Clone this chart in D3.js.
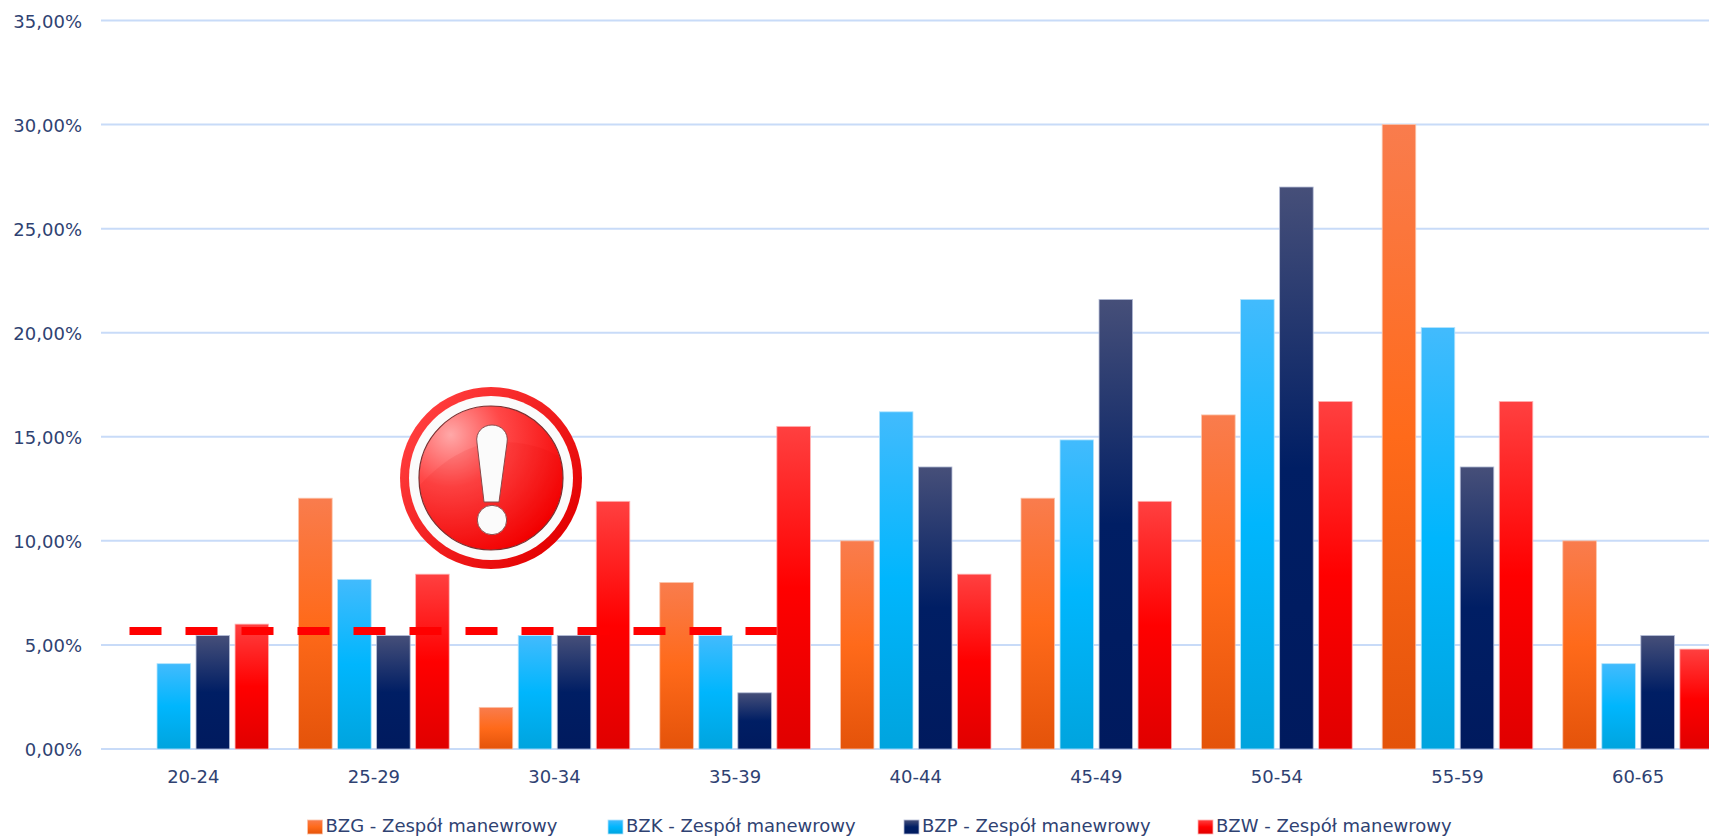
<!DOCTYPE html>
<html>
<head>
<meta charset="utf-8">
<script src="https://cdn.jsdelivr.net/npm/d3@7"></script>
<style>
    html, body { margin: 0; padding: 0; background: #fff; overflow: hidden; }
    svg { display: block; }
    text { font-family: 'DejaVu Sans', sans-serif; fill: #2f4272; }
</style>
</head>
<body>
<svg></svg>
<script>
let width = 1709;
let height = 836;
let labelFont = "'DejaVu Sans', sans-serif";
let labelSize = 18;

let ageGroups = ['20-24', '25-29', '30-34', '35-39', '40-44', '45-49', '50-54', '55-59', '60-65'];
let seriesNames = ['BZG - Zespół manewrowy', 'BZK - Zespół manewrowy', 'BZP - Zespół manewrowy', 'BZW - Zespół manewrowy'];

let bzg = [0, 12.05, 2, 8, 10, 12.05, 16.05, 30, 10];
let bzk = [4.1, 8.15, 5.45, 5.45, 16.2, 14.85, 21.6, 20.25, 4.1];
let bzp = [5.45, 5.45, 5.45, 2.7, 13.55, 21.6, 27, 13.55, 5.45];
let bzw = [6, 8.4, 11.9, 15.5, 8.4, 11.9, 16.7, 16.7, 4.8];
let seriesValues = [bzg, bzk, bzp, bzw];

let yTicks = [0, 5, 10, 15, 20, 25, 30, 35];
let thresholdValue = 5.67;
let thresholdGroups = ['20-24', '35-39'];

// top, middle and bottom stops of each bar fill, plus its pale outline
let gradientStops = [
    ['#f97c4d', '#ff6a1a', '#e4530a'],
    ['#42bbfd', '#00b6fd', '#00a4de'],
    ['#464f79', '#001e64', '#001a5e'],
    ['#ff4040', '#ff0000', '#e00000'],
];
let outlines = ['#fbc4ab', '#b3e4fd', '#b4bcd6', '#ffb4b4'];

let svg = d3.select('svg').attr('width', width).attr('height', height);
let defs = svg.append('defs');

gradientStops.forEach((stops, i) => {
    let grad = defs.append('linearGradient')
        .attr('id', 'bar-fill-' + i)
        .attr('x1', 0).attr('y1', 0).attr('x2', 0).attr('y2', 1);
    stops.forEach((c, j) => {
        grad.append('stop').attr('offset', j * 50 + '%').attr('stop-color', c);
    });
});

let xScale = d3.scaleBand().domain(ageGroups).range([103, 1728.4]);
let barScale = d3.scaleBand()
    .domain(d3.range(seriesNames.length))
    .range([15, 165.6])
    .paddingInner(0.14);
let yScale = d3.scaleLinear().domain([0, 35]).range([749, 20.5]);

let formatPercent = (v) => v.toFixed(2).replace('.', ',') + '%';

// horizontal grid lines and percent labels
let yAxis = d3.axisLeft(yScale)
    .tickValues(yTicks)
    .tickSize(0)
    .tickPadding(0)
    .tickFormat(formatPercent);

let yAxisGroup = svg.append('g')
    .attr('transform', 'translate(82, 1)')
    .call(yAxis);
yAxisGroup.select('.domain').remove();
yAxisGroup.selectAll('text').attr('font-size', labelSize).style('font-family', labelFont);

svg.append('g')
    .selectAll('line')
    .data(yTicks)
    .enter()
    .append('line')
    .attr('x1', 101)
    .attr('x2', width)
    .attr('y1', (d) => yScale(d))
    .attr('y2', (d) => yScale(d))
    .attr('stroke', '#c8dbf8')
    .attr('stroke-width', 2);

// one group of four bars for each age range
let groups = svg.append('g')
    .selectAll('g')
    .data(ageGroups)
    .enter()
    .append('g')
    .attr('transform', (d) => `translate(${xScale(d)}, 0)`);

groups.selectAll('rect')
    .data((d, i) => seriesValues.map((values, s) => ({ series: s, value: values[i] })))
    .enter()
    .append('rect')
    .filter((d) => d.value > 0)
    .attr('x', (d) => barScale(d.series))
    .attr('y', (d) => yScale(d.value))
    .attr('width', barScale.bandwidth())
    .attr('height', (d) => yScale(0) - yScale(d.value))
    .attr('fill', (d) => `url(#bar-fill-${d.series})`)
    .attr('stroke', (d) => outlines[d.series])
    .attr('stroke-width', 0.8);

let xAxis = d3.axisBottom(xScale).tickSize(0).tickPadding(0);
let xAxisGroup = svg.append('g')
    .attr('transform', 'translate(0, 770)')
    .call(xAxis);
xAxisGroup.select('.domain').remove();
xAxisGroup.selectAll('text').attr('font-size', labelSize).style('font-family', labelFont);

// dashed threshold across the younger age ranges
let thresholdStart = xScale(thresholdGroups[0]) + 26.5;
let thresholdEnd = xScale(thresholdGroups[1]) + barScale(3);
svg.append('line')
    .attr('x1', thresholdStart)
    .attr('x2', thresholdEnd)
    .attr('y1', yScale(thresholdValue))
    .attr('y2', yScale(thresholdValue))
    .attr('stroke', '#ff0000')
    .attr('stroke-width', 8)
    .attr('stroke-dasharray', '32 24');

// warning badge
let badgeGrad = defs.append('radialGradient')
    .attr('id', 'badge-fill')
    .attr('cx', '22%').attr('cy', '20%').attr('r', '90%');
badgeGrad.append('stop').attr('offset', '0%').attr('stop-color', '#ffa8a8');
badgeGrad.append('stop').attr('offset', '40%').attr('stop-color', '#ff4848');
badgeGrad.append('stop').attr('offset', '100%').attr('stop-color', '#f40000');

let ringGrad = defs.append('linearGradient')
    .attr('id', 'badge-ring')
    .attr('x1', '10%').attr('y1', '20%').attr('x2', '90%').attr('y2', '85%');
ringGrad.append('stop').attr('offset', '0%').attr('stop-color', '#ff3c3c');
ringGrad.append('stop').attr('offset', '100%').attr('stop-color', '#e40000');

defs.append('clipPath').attr('id', 'badge-clip').append('circle').attr('r', 71.5);

let badge = svg.append('g').attr('transform', 'translate(491, 478)');
badge.append('circle').attr('r', 91).attr('fill', 'url(#badge-ring)');
badge.append('circle').attr('r', 82).attr('fill', '#fbfbfb');
badge.append('circle').attr('r', 72).attr('fill', 'url(#badge-fill)').attr('stroke', '#7a3030').attr('stroke-width', 1.2);
badge.append('path')
    .attr('clip-path', 'url(#badge-clip)')
    .attr('d', 'M-72,8 C-45,-22 -15,-37 15,-36 C40,-35 60,-28 72,-18 L72,80 L-72,80 Z')
    .attr('fill', '#e00000')
    .attr('opacity', 0.1);
badge.append('path')
    .attr('d', 'M-14,-35 C-16,-46 -8,-53 1,-53 C10,-53 18,-46 16,-35 L8,24 L-7,24 Z')
    .attr('fill', '#fbfbfb')
    .attr('stroke', '#8a4a4a')
    .attr('stroke-width', 1);
badge.append('circle')
    .attr('cx', 1).attr('cy', 42).attr('r', 14.7)
    .attr('fill', '#fbfbfb')
    .attr('stroke', '#8a4a4a')
    .attr('stroke-width', 1);

// legend along the bottom edge
let legendX = [307.5, 608, 904, 1198];
let legend = svg.append('g')
    .selectAll('g')
    .data(seriesNames)
    .enter()
    .append('g')
    .attr('transform', (d, i) => `translate(${legendX[i]}, 820)`);

legend.append('rect')
    .attr('width', 15)
    .attr('height', 14)
    .attr('fill', (d, i) => `url(#bar-fill-${i})`)
    .attr('stroke', (d, i) => outlines[i])
    .attr('stroke-width', 0.8);

legend.append('text')
    .attr('x', 18)
    .attr('y', 12)
    .attr('font-size', labelSize)
    .text((d) => d);
</script>
</body>
</html>
